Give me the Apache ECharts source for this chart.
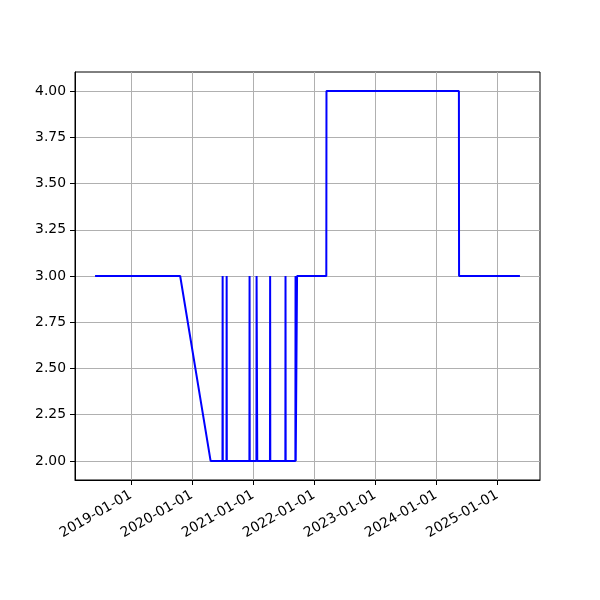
<!DOCTYPE html>
<html>
<head>
<meta charset="utf-8">
<script src="https://cdn.jsdelivr.net/npm/echarts@6/dist/echarts.min.js"></script>
<style>html,body{margin:0;padding:0;background:#fff;}#c{width:600px;height:600px;}</style>
</head>
<body>
<div id="c"></div>
<script>
const dates = ['2018-06-01','2019-10-23','2020-04-22',
  '2020-07-02','2020-07-03','2020-07-04',
  '2020-07-26','2020-07-27','2020-07-28',
  '2020-12-10','2020-12-11','2020-12-12',
  '2021-01-21','2021-01-22','2021-01-25','2021-01-26',
  '2021-04-12','2021-04-13','2021-04-14',
  '2021-07-13','2021-07-14','2021-07-15',
  '2021-09-11','2021-09-12','2021-09-13',
  '2021-09-20','2021-09-21',
  '2022-03-15','2022-03-16',
  '2024-05-16','2024-05-17',
  '2025-05-16'];
const values = [3,3,2,
  2,3,2,
  2,3,2,
  2,3,2,
  2,3,3,2,
  2,3,2,
  2,3,2,
  2,3,2,
  2,3,
  3,4,
  4,3,
  3];
const xTickLabels = ['2019-01-01','2020-01-01','2021-01-01','2022-01-01','2023-01-01','2024-01-01','2025-01-01'];
const yTickValues = [2.00,2.25,2.50,2.75,3.00,3.25,3.50,3.75,4.00];
const xMin = '2018-02-01', xMax = '2025-09-13';
const yMin = 1.897, yMax = 4.103;

const ts = s => new Date(s + 'T00:00:00Z').getTime();
const xTicks = xTickLabels.map(ts);
const font = {fontFamily:'DejaVu Sans', fontSize:13.9, color:'#000'};
const fmtDate = v => { const i = xTicks.indexOf(v); return i >= 0 ? xTickLabels[i] : new Date(v).toISOString().slice(0,10); };

const chart = echarts.init(document.getElementById('c'), null, {renderer:'canvas'});
chart.setOption({
  animation:false,
  backgroundColor:'#fff',
  grid:{left:75, right:60, top:72, bottom:120, show:true, borderColor:'#000', borderWidth:1, backgroundColor:'transparent'},
  xAxis:{
    type:'value', min:ts(xMin), max:ts(xMax), scale:true,
    axisLine:{show:true, onZero:false, lineStyle:{color:'#000', width:1}},
    axisTick:{show:true, customValues:xTicks, length:5, inside:false, lineStyle:{color:'#000', width:1}},
    axisLabel:Object.assign({customValues:xTicks, rotate:30, margin:14, hideOverlap:false, formatter:fmtDate}, font),
    splitLine:{show:true, lineStyle:{color:'#b0b0b0', width:1}}
  },
  yAxis:{
    type:'value', min:yMin, max:yMax,
    axisLine:{show:true, lineStyle:{color:'#000', width:1}},
    axisTick:{show:true, customValues:yTickValues, length:5, lineStyle:{color:'#000', width:1}},
    axisLabel:Object.assign({customValues:yTickValues, margin:9, formatter:v=>v.toFixed(2)}, font),
    splitLine:{show:true, lineStyle:{color:'#b0b0b0', width:1}}
  },
  series:[{
    type:'line',
    data:dates.map((d,i)=>[ts(d), values[i]]),
    showSymbol:false, symbol:'none',
    lineStyle:{color:'#0000ff', width:2},
    z:3
  }]
});
</script>
</body>
</html>
